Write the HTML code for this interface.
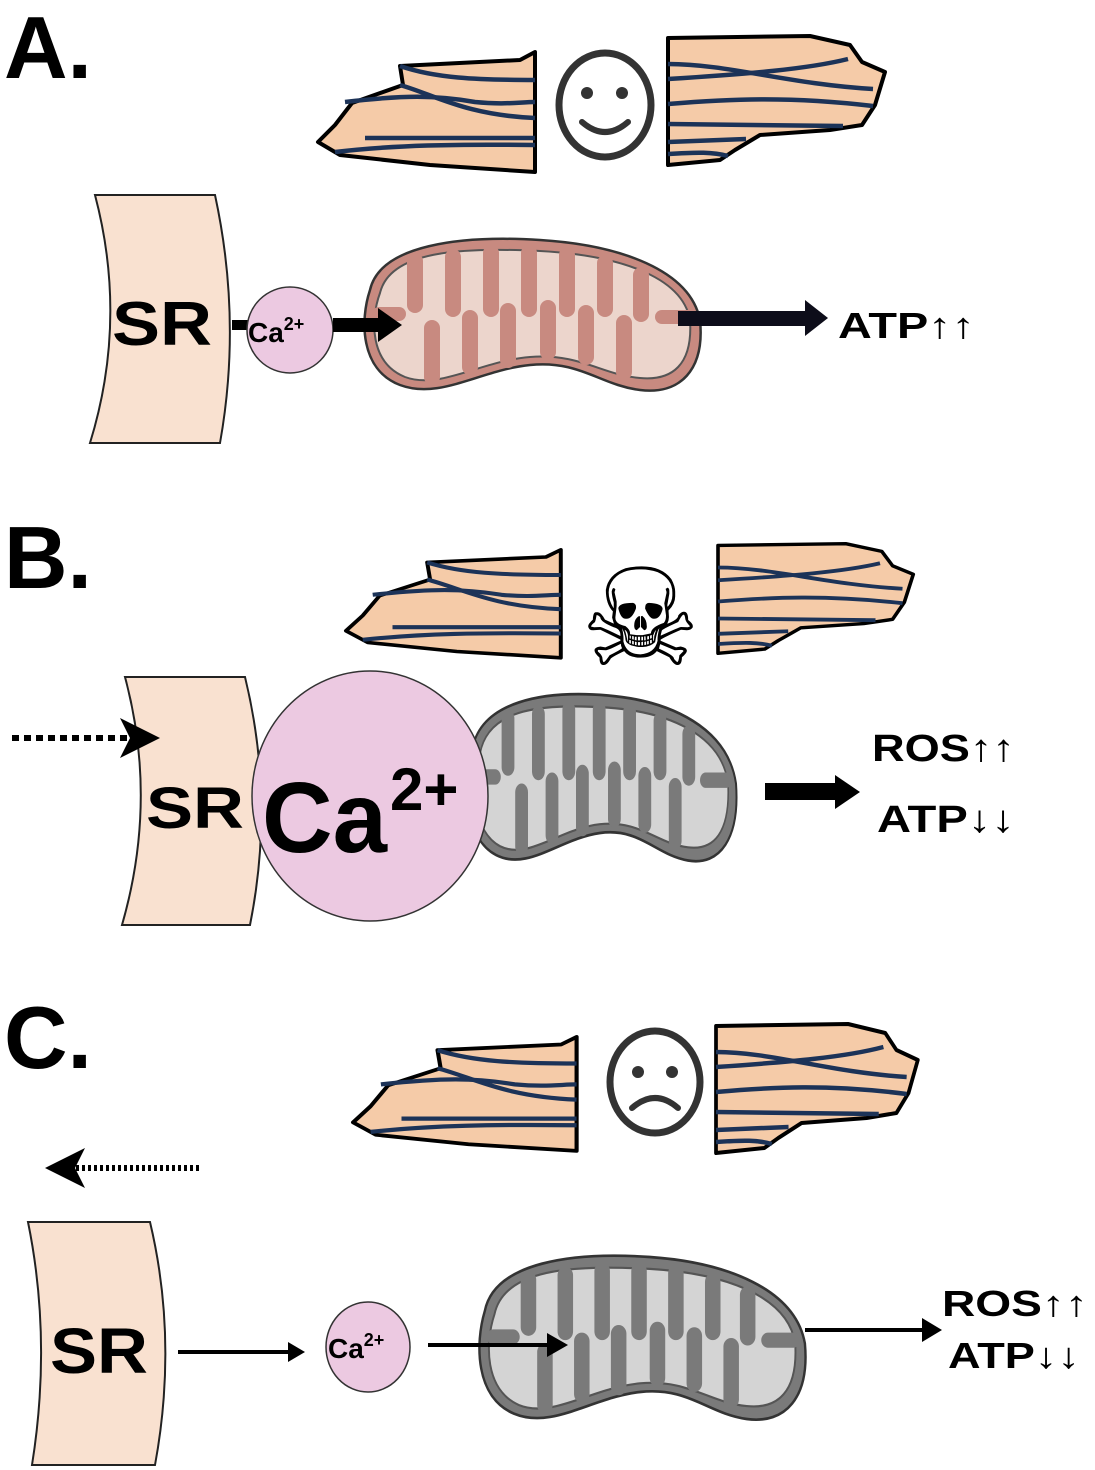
<!DOCTYPE html>
<html><head><meta charset="utf-8"><style>
html,body{margin:0;padding:0;background:#fff}
svg{display:block}
text{font-family:"Liberation Sans",sans-serif;font-weight:bold;fill:#000}
</style></head><body>
<svg width="1095" height="1470" viewBox="0 0 1095 1470" xmlns="http://www.w3.org/2000/svg">
<defs>
<g id="fibL">
<path d="M220,2 L205,10 L85,16 L88,35 L37,53 L20,75 L3,92 L25,105 L115,115 L220,122 Z" fill="#f5cba8" stroke="#000" stroke-width="4" stroke-linejoin="round"/>
<g fill="none" stroke="#1c3358" stroke-width="4.5">
<path d="M85,16 C120,28 160,30 220,30"/>
<path d="M30,52 C90,45 120,45 160,52 C190,55 205,52 220,52"/>
<path d="M85,35 C120,45 150,65 220,68"/>
<path d="M50,88 L220,88"/>
<path d="M20,102 C80,95 140,94 220,95"/>
</g></g>
<g id="fibR">
<path d="M0,4 L142,2 L182,11 L194,28 L217,38 L207,71 L194,91 L162,96 L92,101 L67,116 L52,126 L0,131 Z" fill="#f5cba8" stroke="#000" stroke-width="4" stroke-linejoin="round"/>
<g fill="none" stroke="#1c3358" stroke-width="4.5">
<path d="M0,30 C60,30 120,50 205,55"/>
<path d="M0,45 C80,40 140,35 180,25"/>
<path d="M0,70 C60,65 120,62 205,72"/>
<path d="M0,90 L175,92"/>
<path d="M0,108 L78,105"/>
<path d="M0,120 C30,118 45,118 60,122"/>
</g></g>
<g id="mito">
<path d="M-160,-25 C-150,-70 -70,-80 10,-75 C90,-70 160,-45 170,5 C175,55 150,80 110,75 C70,70 50,45 0,50 C-50,55 -90,85 -130,70 C-170,55 -170,5 -160,-25 Z" stroke="#333" stroke-width="2.5"/>
<path d="M-150,-22 C-140,-64 -70,-68 10,-64 C85,-60 152,-40 160,5 C163,50 142,66 110,63 C72,60 50,38 0,42 C-50,46 -90,75 -125,62 C-160,48 -160,5 -150,-22 Z" fill="currentColor" stroke="#555" stroke-width="2"/>
<g>
<rect x="-123" y="-62" width="16" height="60" rx="8"/>
<rect x="-85" y="-66" width="16" height="68" rx="8"/>
<rect x="-47" y="-70" width="16" height="72" rx="8"/>
<rect x="-9" y="-70" width="16" height="72" rx="8"/>
<rect x="29" y="-68" width="16" height="70" rx="8"/>
<rect x="67" y="-60" width="16" height="62" rx="8"/>
<rect x="103" y="-48" width="16" height="55" rx="8"/>
<rect x="-158" y="-8" width="34" height="14" rx="7"/>
<rect x="-106" y="5" width="16" height="65" rx="8"/>
<rect x="-68" y="-5" width="16" height="65" rx="8"/>
<rect x="-30" y="-12" width="16" height="65" rx="8"/>
<rect x="10" y="-15" width="16" height="60" rx="8"/>
<rect x="48" y="-10" width="16" height="60" rx="8"/>
<rect x="86" y="0" width="16" height="65" rx="8"/>
<rect x="125" y="-5" width="40" height="14" rx="7"/>
</g></g>
</defs>

<!-- A -->
<text x="4" y="78" font-size="88">A.</text>
<use href="#fibL" transform="translate(315,50)"/>
<use href="#fibR" transform="translate(668,34)"/>
<ellipse cx="605" cy="105" rx="46" ry="52" fill="none" stroke="#333" stroke-width="7"/>
<circle cx="587" cy="93" r="6" fill="#333"/><circle cx="622" cy="93" r="6" fill="#333"/>
<path d="M582,122 Q605,142 628,122" fill="none" stroke="#333" stroke-width="6" stroke-linecap="round"/>

<path d="M95,195 L215,195 Q242,320 220,443 L90,443 Q128,320 95,195 Z" fill="#f9e1d0" stroke="#222" stroke-width="2"/>
<text x="112" y="345" font-size="62" textLength="100" lengthAdjust="spacingAndGlyphs">SR</text>
<rect x="232" y="320" width="16" height="10" fill="#000"/>
<use href="#mito" transform="translate(530,315)" fill="#c88a80" color="#ecd5cc"/>
<circle cx="290" cy="330" r="43" fill="#ecc9e1" stroke="#333" stroke-width="1.5"/>
<text x="248" y="342" font-size="28">Ca<tspan dy="-12" font-size="18">2+</tspan></text>
<rect x="333" y="318" width="48" height="14" fill="#000"/>
<path d="M378,308 L402,325 L378,342 Z" fill="#000"/>
<rect x="678" y="311" width="130" height="15" fill="#0d0d1a"/>
<path d="M805,300 L828,318 L805,336 Z" fill="#0d0d1a"/>
<text x="838" y="338" font-size="36" textLength="137" lengthAdjust="spacingAndGlyphs">ATP↑↑</text>

<!-- B -->
<text x="4" y="588" font-size="88">B.</text>
<use href="#fibL" transform="translate(343,548) scale(0.99,0.9)"/>
<use href="#fibR" transform="translate(718,542) scale(0.9,0.85)"/>
<text x="580" y="665" font-size="135" style="font-family:'DejaVu Sans',sans-serif;font-weight:normal">☠</text>

<use href="#mito" transform="translate(600,778) scale(0.8,1.1)" fill="#7a7a7a" color="#d4d4d4"/>
<path d="M125,677 L245,677 Q275,800 250,925 L122,925 Q158,800 125,677 Z" fill="#f9e1d0" stroke="#222" stroke-width="2"/>
<ellipse cx="370" cy="796" rx="118" ry="125" fill="#ecc9e1" stroke="#333" stroke-width="1.5"/>
<text x="146" y="828" font-size="58" textLength="98" lengthAdjust="spacingAndGlyphs">SR</text>
<text x="262" y="852" font-size="100" textLength="125" lengthAdjust="spacingAndGlyphs">Ca</text>
<text x="390" y="810" font-size="60">2+</text>
<line x1="12" y1="738" x2="135" y2="738" stroke="#000" stroke-width="6" stroke-dasharray="7,5"/>
<path d="M120,718 L160,738 L120,758 L130,738 Z" fill="#000"/>
<rect x="765" y="783" width="72" height="17" fill="#000"/>
<path d="M835,775 L860,792 L835,809 Z" fill="#000"/>
<text x="872" y="761" font-size="38" textLength="143" lengthAdjust="spacingAndGlyphs">ROS↑↑</text>
<text x="877" y="832" font-size="38" textLength="138" lengthAdjust="spacingAndGlyphs">ATP↓↓</text>

<!-- C -->
<text x="4" y="1068" font-size="88">C.</text>
<use href="#fibL" transform="translate(350,1035) scale(1.03,0.95)"/>
<use href="#fibR" transform="translate(716,1022) scale(0.93,1)"/>
<ellipse cx="655" cy="1082" rx="45" ry="51" fill="none" stroke="#333" stroke-width="7"/>
<circle cx="638" cy="1072" r="6" fill="#333"/><circle cx="672" cy="1072" r="6" fill="#333"/>
<path d="M632,1108 Q655,1088 678,1108" fill="none" stroke="#333" stroke-width="6" stroke-linecap="round"/>
<line x1="70" y1="1168" x2="200" y2="1168" stroke="#000" stroke-width="6" stroke-dasharray="3,3"/>
<path d="M45,1168 L85,1148 L75,1168 L85,1188 Z" fill="#000"/>

<path d="M28,1222 L150,1222 Q178,1340 155,1465 L32,1465 Q52,1340 28,1222 Z" fill="#f9e1d0" stroke="#222" stroke-width="2"/>
<text x="50" y="1373" font-size="64" textLength="98" lengthAdjust="spacingAndGlyphs">SR</text>
<line x1="178" y1="1352" x2="290" y2="1352" stroke="#000" stroke-width="4"/>
<path d="M288,1342 L305,1352 L288,1362 Z" fill="#000"/>
<ellipse cx="368" cy="1347" rx="42" ry="45" fill="#ecc9e1" stroke="#333" stroke-width="1.5"/>
<text x="328" y="1358" font-size="28">Ca<tspan dy="-12" font-size="18">2+</tspan></text>
<use href="#mito" transform="translate(640,1338) scale(0.97,1.08)" fill="#7a7a7a" color="#d4d4d4"/>
<line x1="428" y1="1345" x2="550" y2="1345" stroke="#000" stroke-width="4"/>
<path d="M547,1333 L568,1345 L547,1357 Z" fill="#000"/>
<line x1="805" y1="1330" x2="925" y2="1330" stroke="#000" stroke-width="4"/>
<path d="M922,1318 L942,1330 L922,1342 Z" fill="#000"/>
<text x="942" y="1316" font-size="36" textLength="146" lengthAdjust="spacingAndGlyphs">ROS↑↑</text>
<text x="948" y="1368" font-size="36" textLength="132" lengthAdjust="spacingAndGlyphs">ATP↓↓</text>
</svg>
</body></html>
